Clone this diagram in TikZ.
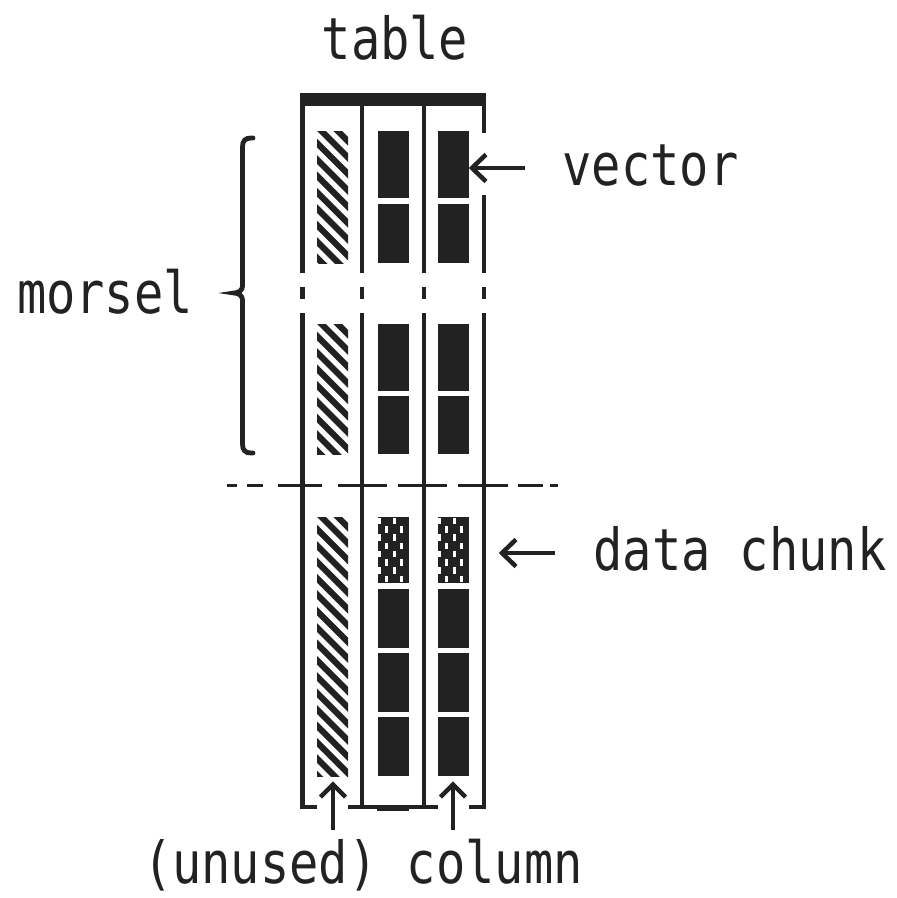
\documentclass[tikz,border=0pt]{standalone}
\usepackage{fontspec}
\newfontfamily\monof{DejaVu Sans Mono}[FakeStretch=0.84]
\usetikzlibrary{calc}
\definecolor{ink}{HTML}{222222}
\begin{document}
\begin{tikzpicture}[x=1pt,y=-1pt,
  ln/.style={draw=ink,line width=4.5pt},
  tipln/.style={draw=ink,line width=4.5pt,line join=miter},
  hatchln/.style={draw=ink,line width=6.2pt},
  lbl/.style={inner sep=0pt,text=ink,font=\monof\fontsize{58}{60}\selectfont,anchor=base}]
\useasboundingbox (0,0) rectangle (897,898);

% ---- top bar of the table
\fill[ink] (300,93) rectangle (486,106);

% ---- column separators
\foreach \x in {302.5,362,424} {
  \draw[ln] (\x,106) -- (\x,273);
  \draw[ln] (\x,287) -- (\x,299);
  \draw[ln] (\x,313) -- (\x,809.25);
}
\draw[ln] (484,106) -- (484,133);
\draw[ln] (484,195) -- (484,273);
\draw[ln] (484,287) -- (484,299);
\draw[ln] (484,313) -- (484,809.25);

% ---- bottom bracket
\draw[ln] (300.25,807) -- (317,807);
\draw[ln] (348,807) -- (438,807);
\draw[ln] (469,807) -- (486.25,807);
\fill[ink] (377,805) rectangle (409,810.5);

% ---- dashed chunk boundary
\foreach \a/\b in {227/237,247/263,278/322,338/387,398/447,458/508,518/543,550/558}
  \draw[draw=ink,line width=3.8pt] (\a,485.5) -- (\b,485.5);

% ---- hatched (unused) column
\foreach \ya/\yb in {131/263,324/454,517/776} {
  \begin{scope}
    \clip (317,\ya) rectangle (348,\yb);
    \foreach \k in {-3,...,17}
      \draw[hatchln] (305,{\ya+\k*16.4}) -- ++(60,60);
  \end{scope}
}

% ---- vectors (solid blocks)
\foreach \cx in {378,438} {
  \foreach \ya/\yb in {131/198,204/263,324/391,396/454,589/648,653/712,717/776}
    \fill[ink] (\cx,\ya) rectangle (\cx+31,\yb);
  % shaded vector of the data chunk
  \fill[ink] (\cx,517) rectangle (\cx+31,583);
  \foreach \r in {0,2,4,6}
    \foreach \o in {0,15}
      \fill[white] ({\cx+\o},{517+\r*8.25+0.8}) rectangle ++(3.4,6.6);
  \foreach \r in {1,3,5,7}
    \foreach \o in {7,22}
      \fill[white] ({\cx+\o},{517+\r*8.25+0.8}) rectangle ++(3.4,6.6);
}

% ---- brace
\draw[draw=ink,line width=4.8pt,line cap=round]
  (253,138) -- (251,138) .. controls (245,138) and (242.5,141) .. (242.5,147)
  -- (242.5,286) .. controls (242.5,290) and (239,293) .. (234,293)
  .. controls (239,293) and (242.5,296) .. (242.5,300)
  -- (242.5,444) .. controls (242.5,450) and (245,453) .. (251,453) -- (253,453);

% ---- labels
\node[lbl] (table) at (395,59) {table};
\node[lbl] (vector) at (650.5,185) {vector};
\node[lbl] (morsel) at (105,313) {morsel};
\node[lbl] (chunk) at (740,570) {data chunk};
\node[lbl] (bottom) at (363,883) {(unused) column};

% ---- arrows
\coordinate (vtail) at (525,168);
\coordinate (vtip) at (472,168);
\draw[ln] (vtail) -- (vtip);
\draw[tipln] ($(vtip)+(14,-13.5)$) -- (vtip) -- ($(vtip)+(14,13.5)$);

\coordinate (ctail) at (555,553);
\coordinate (ctip) at (502,553);
\draw[ln] (ctail) -- (ctip);
\draw[tipln] ($(ctip)+(14,-13.5)$) -- (ctip) -- ($(ctip)+(14,13.5)$);

\coordinate (u1tail) at (333,830);
\coordinate (u1tip) at (333,784.5);
\draw[ln] (u1tail) -- (u1tip);
\draw[tipln] ($(u1tip)+(-12.5,12.5)$) -- (u1tip) -- ($(u1tip)+(12.5,12.5)$);

\coordinate (u2tail) at (453,830);
\coordinate (u2tip) at (453,784.5);
\draw[ln] (u2tail) -- (u2tip);
\draw[tipln] ($(u2tip)+(-12.5,12.5)$) -- (u2tip) -- ($(u2tip)+(12.5,12.5)$);
\end{tikzpicture}
\end{document}
